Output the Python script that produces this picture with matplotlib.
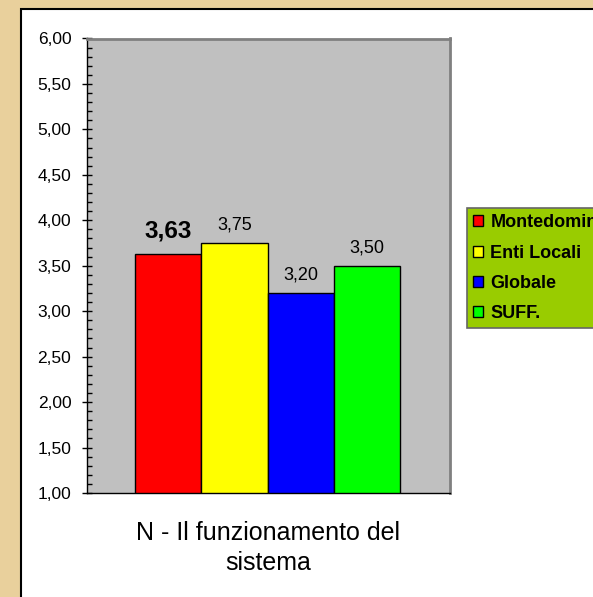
import matplotlib
matplotlib.use("Agg")
import matplotlib.pyplot as plt
from matplotlib.patches import Rectangle, Patch
from matplotlib.ticker import MultipleLocator, FuncFormatter

plt.rcParams['font.family'] = ['Liberation Sans', 'DejaVu Sans']

# data
series = ['Montedomini', 'Enti Locali', 'Globale', 'SUFF.']
values = [3.63, 3.75, 3.20, 3.50]
labels = ['3,63', '3,75', '3,20', '3,50']
colors = ['#FF0000', '#FFFF00', '#0000FF', '#00FF00']
category = 'N - Il funzionamento del\nsistema'

W, H = 593, 597
fig = plt.figure(figsize=(W / 100, H / 100), dpi=100)
fig.patch.set_facecolor('#E9D09C')

# white panel with black border
fig.patches.append(Rectangle((21 / W, -0.01), 1.1, 1 - 9 / H + 0.01,
                             transform=fig.transFigure, facecolor='white',
                             edgecolor='black', linewidth=1.5, zorder=-5))

ax = fig.add_axes([87 / W, 1 - 493 / H, (450 - 87) / W, (493 - 38.5) / H])
ax.set_facecolor('#C0C0C0')

x = range(len(values))
ax.bar(x, values, width=1.0, bottom=0, color=colors, edgecolor='black', linewidth=1)

ax.set_ylim(1, 6)
ax.set_xlim(-1.22, 4.25)
ax.set_xticks([])
ax.yaxis.set_major_locator(MultipleLocator(0.5))
ax.yaxis.set_minor_locator(MultipleLocator(0.1))
ax.yaxis.set_major_formatter(FuncFormatter(lambda v, p: f'{v:.2f}'.replace('.', ',')))
ax.tick_params(axis='y', which='major', direction='inout', length=7.5, width=1,
               labelsize=12.5, pad=7.5)
ax.tick_params(axis='y', which='minor', direction='in', length=3.4, width=1)

for s in ['top', 'right']:
    ax.spines[s].set_color('#808080')
    ax.spines[s].set_linewidth(2)
for s in ['left', 'bottom']:
    ax.spines[s].set_color('black')
    ax.spines[s].set_linewidth(1)

for i, (v, lab) in enumerate(zip(values, labels)):
    if i == 0:
        ax.annotate(lab, (i, v), xytext=(0, 11.5), textcoords='offset points',
                    ha='center', va='baseline', fontsize=17.5, fontweight='bold')
    else:
        ax.annotate(lab, (i, v), xytext=(0, 9.4), textcoords='offset points',
                    ha='center', va='baseline', fontsize=13)

fig.text(268 / W, 1 - 548 / H, category, ha='center', va='center',
         fontsize=18, linespacing=1.35)

handles = [Patch(facecolor=c, edgecolor='black', linewidth=1) for c in colors]
leg = fig.legend(handles, series, loc='upper left',
                 bbox_to_anchor=(467 / W, 1 - 208 / H), borderaxespad=0,
                 fancybox=False, facecolor='#99CC00', edgecolor='#666666',
                 framealpha=1, prop={'weight': 'bold', 'size': 13},
                 handlelength=0.55, handleheight=0.55, handletextpad=0.4,
                 labelspacing=0.73, borderpad=0.35)
leg.get_frame().set_linewidth(1.2)

fig.savefig('out.png', dpi=100, facecolor=fig.get_facecolor())
